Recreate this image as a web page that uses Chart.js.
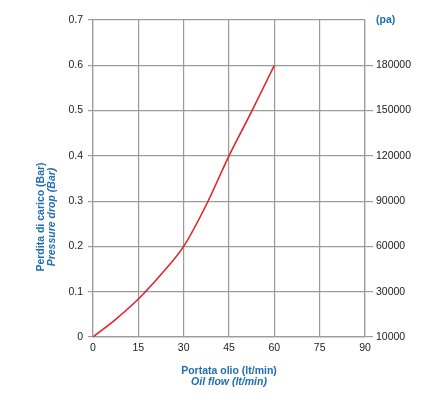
<!DOCTYPE html>
<html>
<head>
<meta charset="utf-8">
<script src="https://cdn.jsdelivr.net/npm/chart.js@4"></script>
<style>
  html, body { margin: 0; padding: 0; background: #fff; }
  #wrap { width: 422px; height: 405px; }
</style>
</head>
<body>
<div id="wrap"><canvas id="dropChart"></canvas></div>
<script>
// values
const flow = [0, 7.5, 15, 22.5, 30, 37.5, 45, 52.5, 60];
const pressureDrop = [0, 0.039, 0.084, 0.138, 0.2, 0.292, 0.4, 0.498, 0.6];
const xTicks = [0, 15, 30, 45, 60, 75, 90];
const barTicks = ['0', '0.1', '0.2', '0.3', '0.4', '0.5', '0.6', '0.7'];
const paTicks = ['10000', '30000', '60000', '90000', '120000', '150000', '180000', '(pa)'];
const yTitle = ['Perdita di carico (Bar)', 'Pressure drop (Bar)'];
const xTitle = ['Portata olio (lt/min)', 'Oil flow (lt/min)'];

const blue = '#1f6db3';
const gridGray = '#9b9b9b';
const fontFamily = '"Liberation Sans", Arial, sans-serif';

// axis titles drawn by hand: second line is italic, y title sits low
const titlesPlugin = {
  id: 'titles',
  afterDraw(chart) {
    const ctx = chart.ctx;
    const area = chart.chartArea;
    ctx.save();
    ctx.fillStyle = blue;
    ctx.textAlign = 'center';
    ctx.textBaseline = 'middle';
    const cx = (area.left + area.right) / 2;
    ctx.font = 'bold 10.5px ' + fontFamily;
    ctx.fillText(xTitle[0], cx, 371);
    ctx.font = 'italic bold 10.5px ' + fontFamily;
    ctx.fillText(xTitle[1], cx, 382.5);

    ctx.translate(0, 217);
    ctx.rotate(-Math.PI / 2);
    ctx.font = 'bold 10.5px ' + fontFamily;
    ctx.fillText(yTitle[0], 0, 41);
    ctx.font = 'italic bold 10.5px ' + fontFamily;
    ctx.fillText(yTitle[1], 0, 52.5);
    ctx.restore();
  }
};

document.addEventListener('DOMContentLoaded', function() {
  const ctx = document.getElementById('dropChart').getContext('2d');
  new Chart(ctx, {
    type: 'line',
    data: {
      datasets: [{
        label: 'Pressure drop',
        data: flow.map((f, i) => ({ x: f, y: pressureDrop[i] })),
        borderColor: '#e2242b',
        borderWidth: 1.6,
        pointRadius: 0,
        fill: false,
        cubicInterpolationMode: 'monotone',
        yAxisID: 'y'
      }]
    },
    plugins: [titlesPlugin],
    options: {
      responsive: true,
      maintainAspectRatio: false,
      animation: false,
      layout: { padding: { top: 20, left: 0, right: 0, bottom: 0 } },
      plugins: {
        legend: { display: false },
        tooltip: { enabled: false }
      },
      scales: {
        x: {
          type: 'linear',
          min: 0,
          max: 90,
          afterBuildTicks: (scale) => { scale.ticks = xTicks.map(v => ({ value: v })); },
          ticks: {
            padding: 5,
            color: '#222',
            font: { family: fontFamily, size: 10.5 }
          },
          grid: { color: gridGray, lineWidth: 1.2, drawTicks: false },
          border: { color: gridGray, width: 1.2 },
          afterFit: (scale) => { scale.height = 68; }
        },
        y: {
          position: 'left',
          min: 0,
          max: 0.7,
          ticks: {
            stepSize: 0.1,
            padding: 5,
            color: '#222',
            font: { family: fontFamily, size: 10.5 },
            callback: (v, i) => barTicks[i]
          },
          grid: { color: gridGray, lineWidth: 1.2, tickLength: 5 },
          border: { color: gridGray, width: 1.2 },
          afterFit: (scale) => { scale.width = 93; }
        },
        y1: {
          position: 'right',
          min: 0,
          max: 0.7,
          ticks: {
            stepSize: 0.1,
            padding: 3,
            color: (c) => c.index === paTicks.length - 1 ? blue : '#222',
            font: (c) => ({
              family: fontFamily,
              size: 10.5,
              weight: c.index === paTicks.length - 1 ? 'bold' : 'normal'
            }),
            callback: (v, i) => paTicks[i]
          },
          grid: {
            drawOnChartArea: false,
            tickLength: 8,
            lineWidth: 1.2,
            tickColor: (c) => c.index === paTicks.length - 1 ? 'rgba(0,0,0,0)' : gridGray
          },
          border: { color: gridGray, width: 1.2 },
          afterFit: (scale) => { scale.width = 57; }
        }
      }
    }
  });
});
</script>
</body>
</html>
